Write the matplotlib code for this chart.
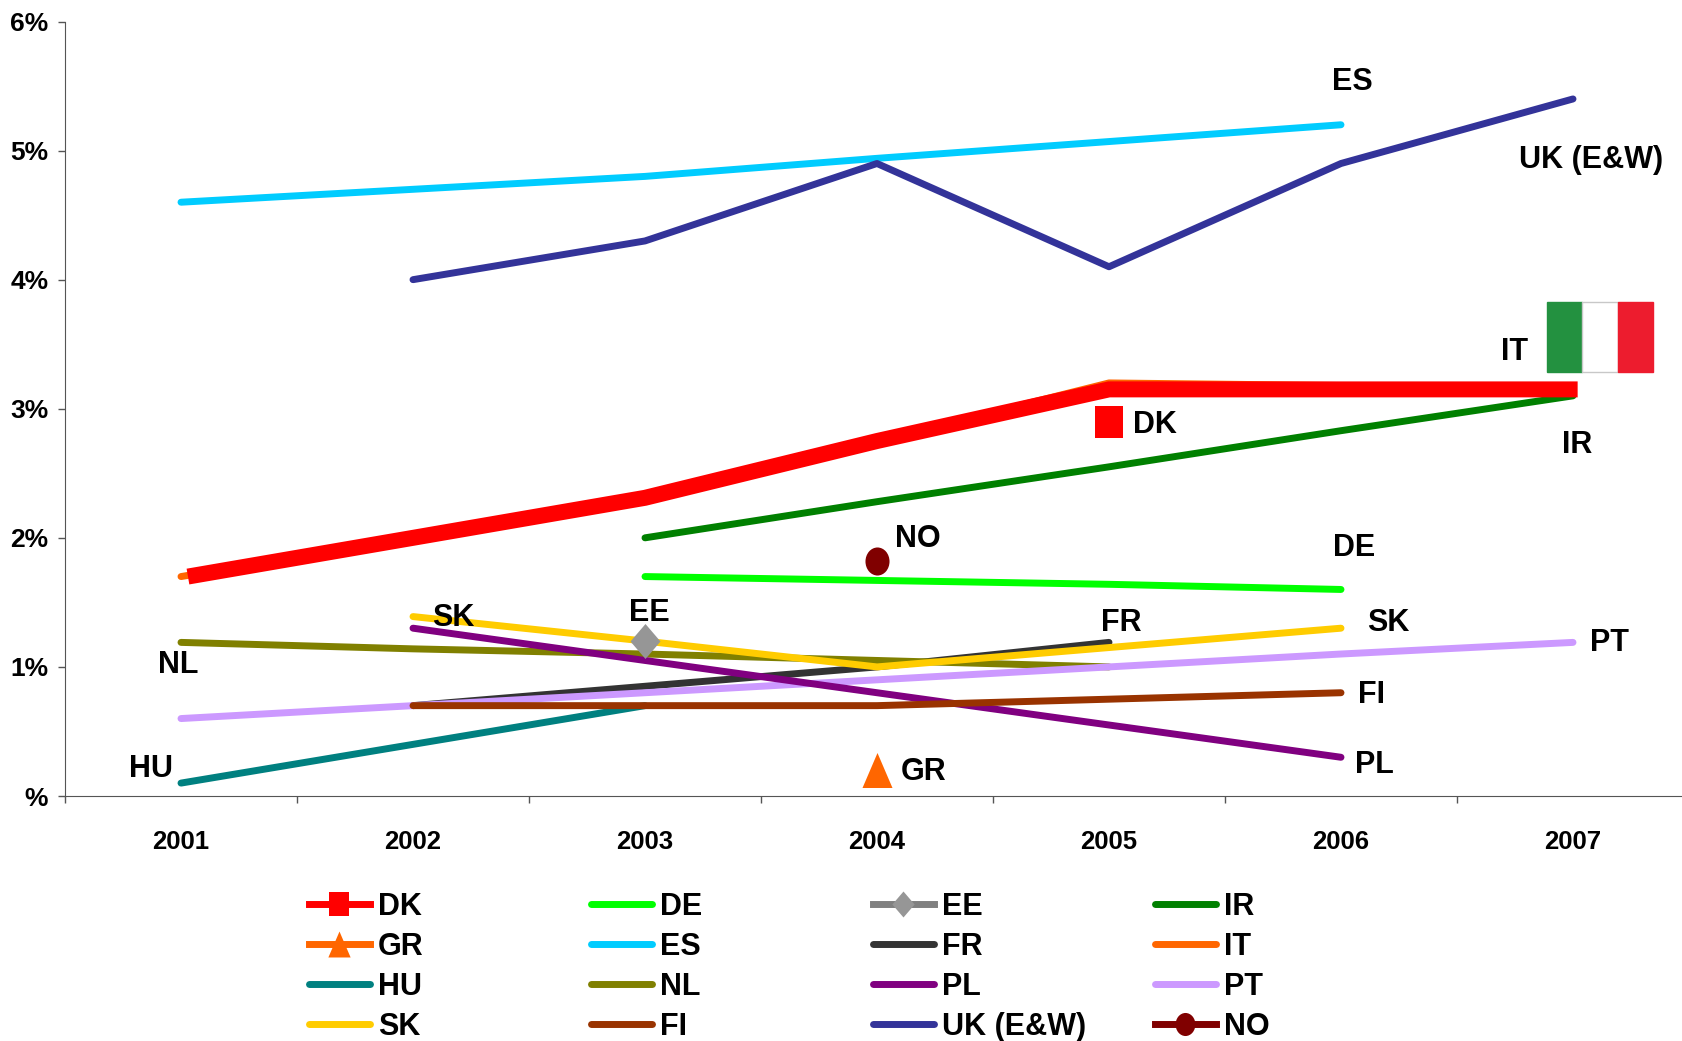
import matplotlib.pyplot as plt
from matplotlib.patches import Rectangle
from matplotlib.path import Path

W, H = 1682, 1041

plt.rcParams["font.family"] = ["Liberation Sans", "DejaVu Sans"]
plt.rcParams["font.weight"] = "bold"

anos = [2001, 2002, 2003, 2004, 2005, 2006, 2007]
y_ticks = [0, 1, 2, 3, 4, 5, 6]
y_labels = ["%", "1%", "2%", "3%", "4%", "5%", "6%"]

# values in %, None = no data
it = [1.7, 2.0, 2.31, 2.75, 3.2, 3.18, 3.15]
dk_x = [2001.03, 2002, 2003, 2004, 2005, 2006, 2007.02]
dk_line = [1.7, 2.0, 2.31, 2.75, 3.15, 3.15, 3.15]
dk_mark = [None, None, None, None, 2.9, None, None]
gr = [None, None, None, 0.2, None, None, None]
ee = [None, None, 1.2, None, None, None, None]
no = [None, None, None, 1.82, None, None, None]
de = [None, None, 1.7, 1.67, 1.64, 1.6, None]
ir = [None, None, 2.0, 2.28, 2.55, 2.83, 3.1]
es = [4.6, 4.7, 4.8, 4.94, 5.07, 5.2, None]
fr = [None, 0.7, 0.85, 1.0, 1.19, None, None]
hu = [0.1, 0.4, 0.7, None, None, None, None]
nl = [1.19, 1.14, 1.1, 1.05, 1.0, None, None]
pl = [None, 1.3, 1.05, 0.8, 0.55, 0.3, None]
pt = [0.6, 0.7, 0.8, 0.9, 1.0, 1.1, 1.19]
sk = [None, 1.39, 1.2, 1.0, 1.15, 1.3, None]
fi = [None, 0.7, 0.7, 0.7, 0.75, 0.8, None]
uk = [None, 4.0, 4.3, 4.9, 4.1, 4.9, 5.4]

# (text, x px, y px) centre of the loose labels
rotulos = [
    ("ES", 1352, 80), ("UK (E&W)", 1591, 158), ("IT", 1515, 350),
    ("DK", 1155, 423), ("IR", 1577, 443), ("NO", 918, 537),
    ("DE", 1354, 546), ("EE", 649, 611), ("SK", 453, 616),
    ("FR", 1121, 621), ("SK", 1388, 621), ("PT", 1610, 641),
    ("NL", 178, 663), ("FI", 1372, 693), ("PL", 1374, 763),
    ("HU", 151, 767), ("GR", 924, 770),
]

# stretched markers of the original (w, h in px)
m_quad = Path([(-14, -16), (14, -16), (14, 16), (-14, 16), (-14, -16)], closed=True)
m_tri = Path([(-15, -17.5), (15, -17.5), (0, 17.5), (-15, -17.5)], closed=True)
m_los = Path([(-15, 0), (0, -17.5), (15, 0), (0, 17.5), (-15, 0)], closed=True)
circ = Path.unit_circle()
m_oval = Path(circ.vertices * [12, 14], circ.codes)


def limpa(valores):
    xs = [a for a, v in zip(anos, valores) if v is not None]
    ys = [v for v in valores if v is not None]
    return xs, ys


fig = plt.figure(figsize=(W / 100, H / 100), dpi=100)
ax = fig.add_axes([65 / W, 1 - 796 / H, 1 - 65 / W, (796 - 21.5) / H])

LW = 5


def linha(valores, cor, nome):
    xs, ys = limpa(valores)
    ln, = ax.plot(xs, ys, color=cor, lw=LW, solid_capstyle="round",
                  solid_joinstyle="round", label=nome)
    return ln


def marca(valores, cor, marker, ms):
    xs, ys = limpa(valores)
    ax.plot(xs, ys, ls="none", marker=marker, color=cor, markersize=ms,
            markeredgewidth=0, zorder=6)


def chave(cor, marker=None, ms=0, mcor=None):
    return plt.Line2D([0], [0], color=cor, lw=LW, marker=marker, markersize=ms,
                      markerfacecolor=mcor or cor, markeredgewidth=0)


h_it = linha(it, "#ff6600", "IT")
h_ir = linha(ir, "#008000", "IR")
h_de = linha(de, "#00ff00", "DE")
h_es = linha(es, "#00ccff", "ES")
h_fr = linha(fr, "#333333", "FR")
h_hu = linha(hu, "#008080", "HU")
h_nl = linha(nl, "#808000", "NL")
h_pt = linha(pt, "#cc99ff", "PT")
h_pl = linha(pl, "#800080", "PL")
h_sk = linha(sk, "#ffcc00", "SK")
h_fi = linha(fi, "#993300", "FI")
h_uk = linha(uk, "#333399", "UK (E&W)")

ax.plot(dk_x, dk_line, color="#ff0000", lw=11.5, solid_capstyle="butt", solid_joinstyle="miter", zorder=5)

marca(dk_mark, "#ff0000", m_quad, 23)
marca(gr, "#ff6600", m_tri, 25.2)
marca(ee, "#969696", m_los, 25.2)
marca(no, "#800000", m_oval, 20.2)

h_dk = chave("#ff0000", m_quad, 16.6)
h_gr = chave("#ff6600", m_tri, 18.7)
h_ee = chave("#808080", m_los, 18.7, "#969696")
h_no = chave("#800000", m_oval, 16.6)

# one legend per column so the columns keep a fixed distance
colunas = [
    (309, [h_dk, h_gr, h_hu, h_sk], ["DK", "GR", "HU", "SK"]),
    (591, [h_de, h_es, h_nl, h_fi], ["DE", "ES", "NL", "FI"]),
    (873, [h_ee, h_fr, h_pl, h_uk], ["EE", "FR", "PL", "UK (E&W)"]),
    (1155, [h_ir, h_it, h_pt, h_no], ["IR", "IT", "PT", "NO"]),
]
FS = 22
for px, hs, ls in colunas:
    leg = fig.legend(hs, ls, frameon=False, fontsize=FS, loc="upper left",
                     bbox_to_anchor=(px / W, 1 - 892 / H), borderaxespad=0, borderpad=0,
                     handlelength=43.9 / FS, handletextpad=0.265, labelspacing=0.325)
    for t in leg.get_texts():
        t.set_fontweight("bold")

ax.set_yticks(y_ticks)
ax.set_yticklabels(y_labels, fontsize=19, fontweight="bold")
ax.set_xticks([a + 0.5 for a in [2000] + anos])
ax.set_xticklabels([])
ax.set_xticks(anos, minor=True)
ax.set_xticklabels([str(a) for a in anos], minor=True, fontsize=18.5, fontweight="bold")
ax.set_xlim(2000.5, 2000.5 + (W - 65) / 232)
ax.set_ylim(0, 6)
ax.tick_params(axis="x", which="major", length=5, width=1, color="#555555")
ax.tick_params(axis="x", which="minor", length=0, pad=24.5)
ax.tick_params(axis="y", length=5, width=1, color="#555555", pad=7)
ax.spines["top"].set_visible(False)
ax.spines["right"].set_visible(False)
ax.spines["left"].set_color("#555555")
ax.spines["bottom"].set_color("#555555")

for texto, px, py in rotulos:
    fig.text(px / W, 1 - (py + 2) / H, texto, ha="center", va="center", fontsize=FS, fontweight="bold")

# flag of Italy beside the IT label
x0, x1 = 1547, 1653
y0, y1 = 302, 372
larg = (x1 - x0) / 3
for i, cor in enumerate(["#239140", "#ffffff", "#ed1c2e"]):
    fig.add_artist(Rectangle(((x0 + i * larg) / W, 1 - y1 / H), larg / W, (y1 - y0) / H,
                             transform=fig.transFigure, facecolor=cor,
                             edgecolor="#c8c8c8" if cor == "#ffffff" else cor, lw=1))

fig.savefig("out.png", dpi=100)
